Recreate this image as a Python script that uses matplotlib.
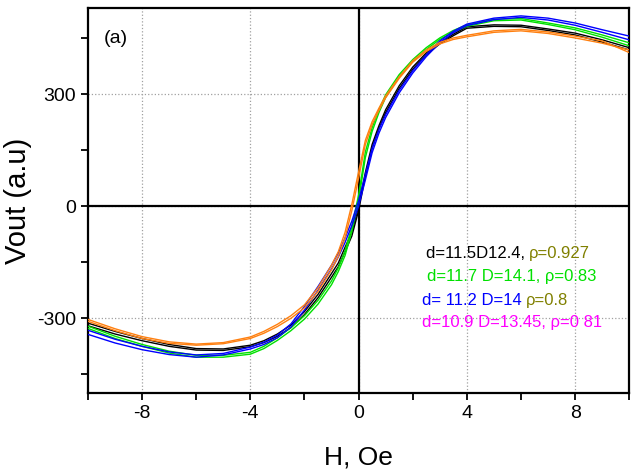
import numpy as np
import matplotlib
matplotlib.use("Agg")
import matplotlib.pyplot as plt
from matplotlib.ticker import FixedLocator

plt.rcParams['font.family'] = ['Liberation Sans', 'DejaVu Sans']

# field values (Oe)
H = [-10, -9, -8, -7, -6, -5, -4, -3.5, -3, -2.5, -2, -1.5, -1, -0.75, -0.5, -0.25,
     0, 0.25, 0.5, 0.75, 1, 1.5, 2, 2.5, 3, 3.5, 4, 5, 6, 7, 8, 9, 10]

# each sample: two branches of the loop
black_a = [-313, -335, -354, -370, -381, -382, -372, -360, -342, -318, -282, -236, -180, -152, -110, -70,
           0, 90, 165, 215, 258, 322, 372, 410, 438, 460, 480, 485, 484, 474, 463, 445, 424]
black_b = [-320, -342, -360, -375, -385, -386, -376, -365, -348, -325, -290, -245, -190, -162, -122, -80,
           -12, 80, 155, 207, 250, 315, 366, 405, 434, 456, 476, 481, 480, 470, 458, 439, 418]

green_a = [-321, -348, -370, -388, -399, -399, -391, -375, -352, -325, -293, -252, -200, -165, -120, -55,
           30, 145, 210, 258, 298, 352, 392, 424, 450, 470, 485, 500, 502, 490, 477, 458, 437]
green_b = [-327, -354, -375, -393, -404, -404, -396, -381, -359, -333, -302, -262, -210, -175, -132, -68,
           15, 130, 200, 250, 291, 346, 387, 419, 446, 466, 481, 496, 498, 486, 472, 452, 429]

blue_a = [-332, -356, -375, -390, -398, -394, -377, -364, -345, -315, -268, -215, -158, -125, -85, -40,
          15, 85, 155, 205, 245, 310, 362, 405, 442, 468, 487, 503, 509, 503, 490, 472, 455]
blue_b = [-343, -366, -384, -397, -404, -398, -382, -370, -352, -323, -278, -225, -168, -136, -97, -52,
          0, 70, 143, 195, 237, 303, 356, 400, 437, 464, 483, 499, 505, 498, 484, 465, 445]

orange_a = [-308, -333, -354, -367, -372, -368, -354, -340, -322, -300, -272, -228, -170, -135, -85, -12,
            75, 165, 218, 256, 290, 342, 385, 414, 434, 446, 453, 465, 469, 462, 450, 436, 418]
orange_b = [-303, -328, -349, -363, -369, -365, -350, -335, -316, -293, -264, -218, -158, -122, -70, 5,
            92, 176, 226, 262, 295, 346, 389, 418, 438, 450, 457, 469, 473, 466, 455, 442, 411]

fig = plt.figure(figsize=(6.33, 4.73), dpi=100)
ax = fig.add_axes([0.139, 0.169, 0.855, 0.814])

ax.grid(True, which='major', color='#a0a0a0', linestyle=':', linewidth=0.9)
ax.axhline(0, color='black', lw=1.6, zorder=2)
ax.axvline(0, color='black', lw=1.6, zorder=2)

curves = [(black_a, black_b, 'black'), (green_a, green_b, '#00e000'),
          (blue_a, blue_b, '#0000ff'), (orange_a, orange_b, '#ff8010')]
for ya, yb, c in curves:
    ax.plot(H, ya, color=c, lw=1.0, zorder=3)
    ax.plot(H, yb, color=c, lw=1.0, zorder=3)

ax.set_xlim(-10, 10)
ax.set_ylim(-500, 530)
ax.xaxis.set_major_locator(FixedLocator([-8, -4, 0, 4, 8]))
ax.xaxis.set_minor_locator(FixedLocator([-10, -6, -2, 2, 6, 10]))
ax.yaxis.set_major_locator(FixedLocator([-300, 0, 300]))
ax.yaxis.set_minor_locator(FixedLocator([-450, -150, 150, 450]))
ax.set_xticklabels(['-8', '-4', '0', '4', '8'])
ax.set_yticklabels(['-300', '0', '300'])
ax.tick_params(which='both', direction='out', length=5, width=1.3, labelsize=14)
for s in ax.spines.values():
    s.set_linewidth(1.6)

ax.set_xlabel('H, Oe', fontsize=19, labelpad=17)
ax.set_ylabel('Vout (a.u)', fontsize=21, labelpad=4)
ax.text(0.03, 0.92, '(a)', transform=ax.transAxes, fontsize=14, va='center')

olive = '#808000'
rows = [
    [('d=11.5D12.4, ', 'black'), ('ρ=0.927', olive)],
    [('d=11.7 D=14.1, ρ=0.83', '#00e000')],
    [('d= 11.2 D=14 ', '#0000ff'), ('ρ=0.8', olive)],
    [('d=10.9 D=13.45, ρ=0 81', '#ff00ff')],
]
starts = [(0.624, 0.351), (0.626, 0.291), (0.617, 0.229), (0.617, 0.171)]
for row, (x0, y0) in zip(rows, starts):
    prev = None
    for txt, c in row:
        if prev is None:
            prev = ax.text(x0, y0, txt, transform=ax.transAxes, color=c,
                           fontsize=12, va='baseline')
        else:
            prev = ax.annotate(txt, xy=(1, 0), xycoords=prev, color=c,
                               fontsize=12, va='bottom')

fig.savefig('out.png', dpi=100)
